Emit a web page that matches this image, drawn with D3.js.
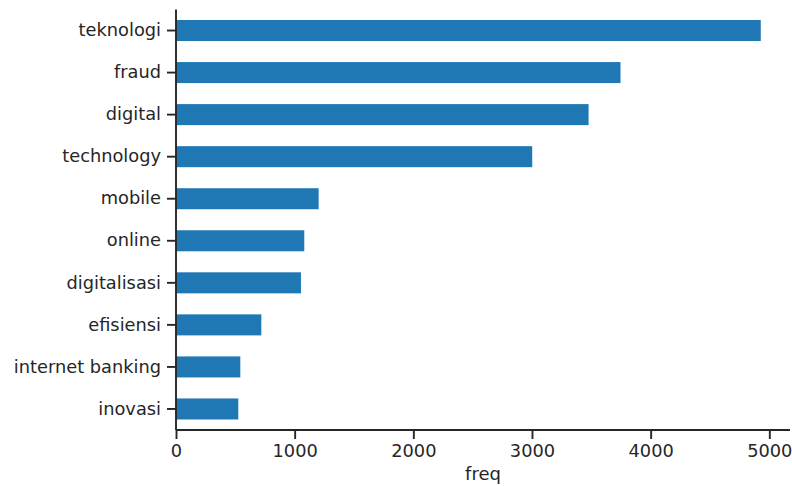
<!DOCTYPE html>
<html>
<head>
<meta charset="utf-8">
<script src="https://cdn.jsdelivr.net/npm/d3@7"></script>
<style>
  html, body { margin: 0; padding: 0; background: #fff; }
  svg { display: block; }
</style>
</head>
<body>
<svg id="chart" width="792" height="486"></svg>
<script>
const categories = ["teknologi", "fraud", "digital", "technology", "mobile", "online", "digitalisasi", "efisiensi", "internet banking", "inovasi"];
const freqValues = [4928, 3746, 3477, 3002, 1202, 1081, 1053, 719, 542, 525];
const xTicks = [0, 1000, 2000, 3000, 4000, 5000];
const xLabel = "freq";

const data = categories.map((c, i) => ({ cat: c, v: freqValues[i] }));

const margin = { left: 176, right: 2, top: 9.5, bottom: 56 };
const W = 792, H = 486;
const svg = d3.select("#chart");
const ink = "#262626";
const font = "'DejaVu Sans', sans-serif";
const fs = 17.8;

const xMax = d3.max(freqValues) * 1.05;
const x = d3.scaleLinear().domain([0, xMax]).range([margin.left, W - margin.right]);
const y = d3.scaleBand().domain(categories).range([margin.top, H - margin.bottom]).paddingInner(0.5).paddingOuter(0.25);

svg.append("g").selectAll("rect").data(data).join("rect")
  .attr("x", x(0))
  .attr("y", d => y(d.cat))
  .attr("width", d => x(d.v) - x(0))
  .attr("height", y.bandwidth())
  .attr("fill", "#1f77b4");

const xAxis = svg.append("g")
  .attr("transform", `translate(0,${H - margin.bottom})`)
  .call(d3.axisBottom(x).tickValues(xTicks).tickFormat(d3.format("d")).tickSize(9).tickPadding(5).tickSizeOuter(0));
const yAxis = svg.append("g")
  .attr("transform", `translate(${margin.left},0)`)
  .call(d3.axisLeft(y).tickSize(9).tickPadding(6).tickSizeOuter(0));

[xAxis, yAxis].forEach(g => {
  g.select(".domain").attr("stroke", ink).attr("stroke-width", 1.9);
  g.selectAll(".tick line").attr("stroke", ink).attr("stroke-width", 1.9);
  g.selectAll(".tick text").attr("fill", ink).style("font-family", font).style("font-size", fs + "px");
});
// full spines
xAxis.select(".domain").attr("d", `M${x(0)},0H${W - margin.right}`);
yAxis.select(".domain").attr("d", `M0,${margin.top}V${H - margin.bottom}`);

svg.append("text")
  .attr("x", (x(0) + W - margin.right) / 2)
  .attr("y", 480)
  .attr("text-anchor", "middle")
  .attr("fill", ink)
  .style("font-family", font)
  .style("font-size", "18px")
  .text(xLabel);
</script>
</body>
</html>
